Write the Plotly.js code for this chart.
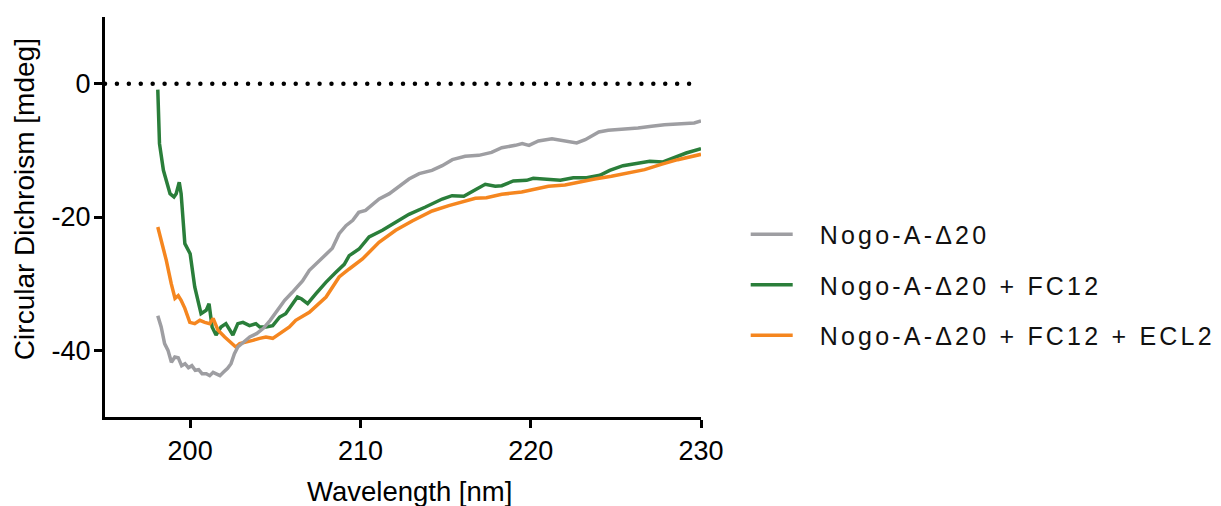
<!DOCTYPE html>
<html>
<head>
<meta charset="utf-8">
<script src="https://cdn.plot.ly/plotly-3.0.1.min.js"></script>
<style>
  html, body { margin: 0; padding: 0; background: #ffffff; }
  #chart { width: 1221px; height: 506px; }
  .legendtext { letter-spacing: 3.2px; }
  .shapelayer path { stroke-linecap: round; }
</style>
</head>
<body>
<div id="chart"></div>
<script>
// Series names
const seriesNames = ["Nogo-A-\u039420", "Nogo-A-\u039420 + FC12", "Nogo-A-\u039420 + FC12 + ECL2"];

// Nogo-A-Δ20 (grey)
const greyX = [198.1,198.3,198.5,198.7,198.9,199.1,199.3,199.5,199.7,199.9,200.1,200.3,200.5,200.7,200.95,201.15,201.35,201.55,201.75,201.95,202.2,202.4,202.6,202.8,203.1,203.5,203.9,204.3,204.7,205.05,205.55,206.0,206.6,207.0,207.8,208.35,208.75,209.15,209.55,209.9,210.3,211.1,211.7,212.25,212.85,213.45,214.2,214.8,215.4,216.15,216.95,217.7,218.3,219.1,219.5,219.9,220.45,221.25,221.8,222.7,223.2,224.0,224.55,225.5,226.3,227.1,227.85,228.85,229.6,230.0];
const greyY = [-34.8,-36.5,-39,-40,-41.8,-41,-41.1,-42.3,-42,-42.6,-42.3,-43,-42.9,-43.5,-43.5,-43.8,-43.3,-43.5,-43.8,-43.3,-42.7,-42,-40.5,-39.5,-38.8,-38,-37.5,-36.7,-35.5,-34.3,-32.5,-31.3,-29.6,-28,-26,-24.7,-22.5,-21.3,-20.5,-19.3,-19,-17.3,-16.5,-15.5,-14.3,-13.5,-13,-12.3,-11.4,-10.9,-10.75,-10.3,-9.6,-9.25,-9,-9.25,-8.6,-8.25,-8.5,-8.9,-8.4,-7.25,-7,-6.85,-6.65,-6.4,-6.15,-6,-5.9,-5.6];

// Nogo-A-Δ20 + FC12 (green)
const greenX = [198.1,198.2,198.43,198.82,199.05,199.18,199.36,199.47,199.69,200.0,200.27,200.64,200.94,201.11,201.29,201.52,201.81,202.1,202.51,202.8,203.1,203.49,203.86,204.09,204.45,204.85,205.26,205.61,206.02,206.3,206.55,206.9,207.39,207.97,208.56,209.05,209.34,209.92,210.51,211.29,212.07,212.85,213.82,214.8,215.38,216.07,216.75,217.33,217.92,218.3,218.98,219.76,220.15,220.93,221.74,222.5,223.28,224.06,224.64,225.42,226.2,226.99,227.77,228.55,229.13,230.0];
const greenY = [-0.9,-9,-13,-16.5,-17,-16.5,-14.8,-16.5,-24,-25.5,-30.5,-34.5,-34,-33,-36.5,-37.7,-36.5,-36,-37.7,-36,-35.8,-36.3,-36,-36.5,-36.5,-36.3,-35,-34.5,-33,-32,-32.3,-33,-31.5,-29.8,-28.3,-27.1,-25.8,-24.8,-23,-22,-20.8,-19.6,-18.5,-17.3,-16.8,-16.9,-15.9,-15.1,-15.4,-15.3,-14.6,-14.5,-14.2,-14.3,-14.5,-14.1,-14.1,-13.75,-13,-12.3,-12,-11.65,-11.75,-11,-10.4,-9.75];

// Nogo-A-Δ20 + FC12 + ECL2 (orange)
const orangeX = [198.1,198.3,198.6,198.89,199.11,199.3,199.47,199.69,199.98,200.27,200.57,200.86,201.15,201.35,201.64,202.03,202.42,202.68,202.91,203.28,203.68,204.08,204.45,204.85,205.24,205.83,206.2,207.0,207.98,208.75,209.34,210.12,211.09,212.07,213.04,214.21,215.19,215.97,216.75,217.4,218.3,219.47,220.26,221.04,222.01,222.79,223.76,224.74,225.71,226.69,227.66,228.63,230.0];
const orangeY = [-21.5,-23.5,-26.5,-30,-32.2,-31.8,-32.5,-33.7,-35.8,-36,-35.5,-35.8,-36,-35.2,-37,-38,-38.8,-39.5,-39,-38.8,-38.5,-38.2,-38,-38.2,-37.5,-36.5,-35.5,-34.3,-32,-29,-27.8,-26.3,-23.8,-22,-20.6,-19.1,-18.3,-17.8,-17.2,-17.1,-16.6,-16.25,-15.8,-15.4,-15.2,-14.75,-14.3,-13.9,-13.4,-12.9,-12.1,-11.4,-10.6];

// Axis ticks and titles
const xTickVals = [200, 210, 220, 230];
const xTickText = ["200", "210", "220", "230"];
const yTickVals = [0, -20, -40];
const yTickText = ["0", "-20", "-40"];
const xTitle = "Wavelength [nm]";
const yTitle = "Circular Dichroism [mdeg]";

const FONT = "Liberation Sans, Arial, Helvetica, sans-serif";

function lineTrace(x, y, name, color, rank) {
  return {
    x: x, y: y, name: name, type: "scatter", mode: "lines",
    line: { color: color, width: 3.5 },
    legendgroup: "g" + rank, legendrank: rank,
    hoverinfo: "skip"
  };
}

const data = [
  lineTrace(greenX, greenY, seriesNames[1], "#2a7e3a", 2),
  lineTrace(orangeX, orangeY, seriesNames[2], "#f5861f", 3),
  lineTrace(greyX, greyY, seriesNames[0], "#9e9ea2", 1)
];

const axisCommon = {
  showgrid: false, zeroline: false,
  showline: true, linecolor: "#000000", linewidth: 3,
  ticks: "outside", ticklen: 8, tickwidth: 3, tickcolor: "#000000",
  tickmode: "array",
  tickfont: { family: FONT, size: 27, color: "#000000" },
  automargin: false
};

const layout = {
  width: 1221, height: 506,
  margin: { l: 105, r: 520, t: 17, b: 89, pad: 0, autoexpand: false },
  paper_bgcolor: "#ffffff", plot_bgcolor: "#ffffff",
  font: { family: FONT, size: 27, color: "#000000" },
  showlegend: true,
  legend: {
    x: 1.075, xanchor: "left", y: 0.33, yanchor: "middle",
    font: { family: FONT, size: 25, color: "#111111" },
    itemwidth: 64, tracegroupgap: 15, bgcolor: "rgba(0,0,0,0)", borderwidth: 0
  },
  xaxis: Object.assign({}, axisCommon, {
    range: [195, 230], tickvals: xTickVals, ticktext: xTickText
  }),
  yaxis: Object.assign({}, axisCommon, {
    range: [-50, 10], tickvals: yTickVals, ticktext: yTickText, ticklabelstandoff: -2
  }),
  annotations: [
    { text: xTitle, xref: "paper", yref: "paper", x: 0.5117, y: -0.185,
      xanchor: "center", yanchor: "middle", showarrow: false,
      font: { family: FONT, size: 27.5, color: "#000000" } },
    { text: yTitle, xref: "paper", yref: "paper", x: -0.134, y: 0.545,
      xanchor: "center", yanchor: "middle", showarrow: false, textangle: -90,
      font: { family: FONT, size: 28, color: "#000000" } }
  ],
  shapes: [{
    type: "line", xref: "paper", yref: "y", x0: 0, x1: 1, y0: 0, y1: 0,
    line: { color: "#000000", width: 4.5, dash: "0px,11.92px" }, layer: "below"
  }]
};

Plotly.newPlot("chart", data, layout, { displayModeBar: false, staticPlot: true }).then(function () {
  document.querySelectorAll(".legendlines path").forEach(function (p) {
    p.setAttribute("d", "M5,0h42");
  });
});
</script>
</body>
</html>
